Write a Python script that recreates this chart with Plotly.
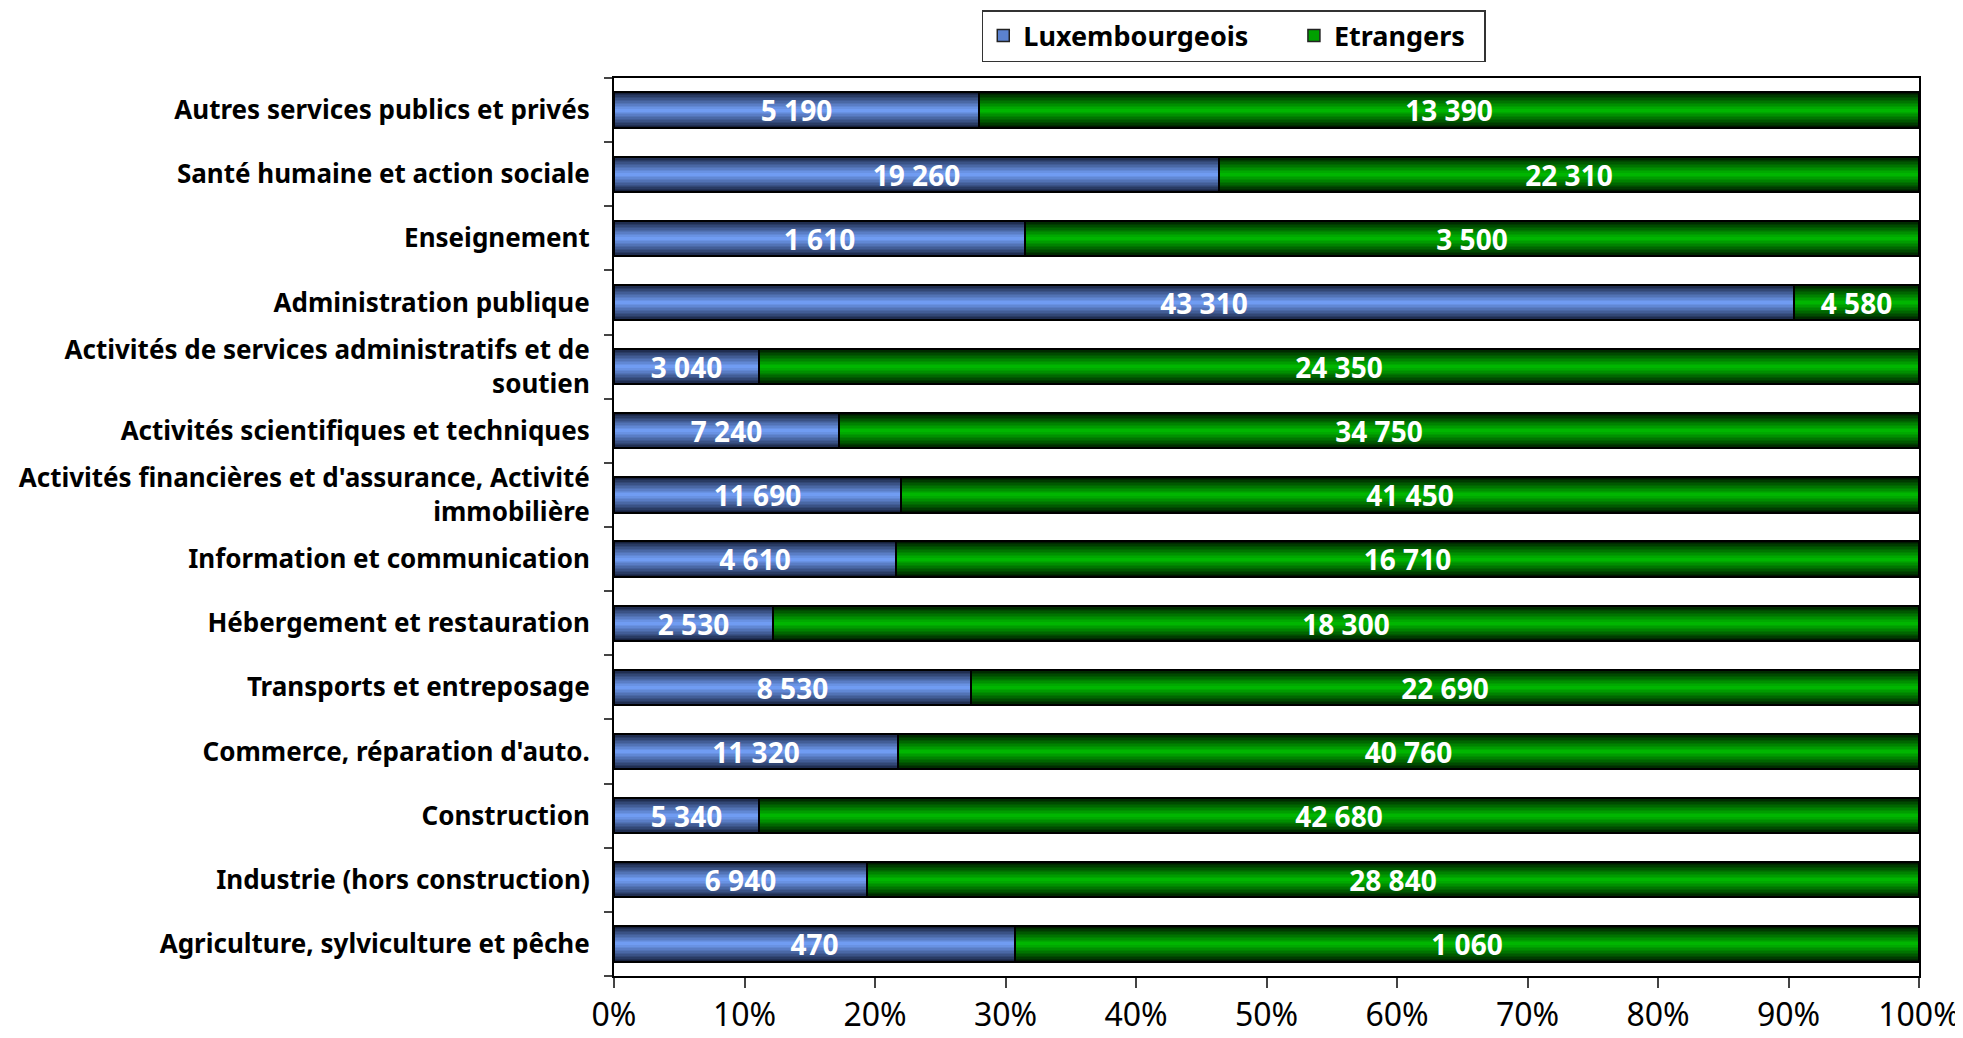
import plotly.graph_objects as go

categories = [
    "Agriculture, sylviculture et pêche",
    "Industrie (hors construction)",
    "Construction",
    "Commerce, réparation d'auto.",
    "Transports et entreposage",
    "Hébergement et restauration",
    "Information et communication",
    "Activités financières et d'assurance, Activité<br>immobilière",
    "Activités scientifiques et techniques",
    "Activités de services administratifs et de<br>soutien",
    "Administration publique",
    "Enseignement",
    "Santé humaine et action sociale",
    "Autres services publics et privés",
]
luxembourgeois = [470, 6940, 5340, 11320, 8530, 2530, 4610, 11690, 7240, 3040, 43310, 1610, 19260, 5190]
etrangers = [1060, 28840, 42680, 40760, 22690, 18300, 16710, 41450, 34750, 24350, 4580, 3500, 22310, 13390]
x_ticks = [0, 10, 20, 30, 40, 50, 60, 70, 80, 90, 100]

totals = [a + b for a, b in zip(luxembourgeois, etrangers)]
lux_pct = [100 * a / t for a, t in zip(luxembourgeois, totals)]
etr_pct = [100 * b / t for b, t in zip(etrangers, totals)]

def fmt(v):
    return f"{v:,}".replace(",", " ")

FONT = "Noto Sans"
BAR_W = 0.55
N = 12

def lerp(c1, c2, t):
    return "rgb(%d,%d,%d)" % tuple(round(a + (b - a) * t) for a, b in zip(c1, c2))

series = [
    ("Luxembourgeois", lux_pct, [0] * len(categories), luxembourgeois, (22, 32, 60), (112, 156, 242), "#5b82cf"),
    ("Etrangers", etr_pct, lux_pct, etrangers, (0, 25, 0), (0, 182, 0), "#00a000"),
]

fig = go.Figure()
for name, vals, base, counts, edge, mid, legc in series:
    for i in range(N):
        t = i / (N - 1)
        w = BAR_W * (1 - i / N)
        fig.add_trace(go.Bar(
            y=categories, x=vals, base=base, orientation="h", width=w,
            marker=dict(color=lerp(edge, mid, t ** 0.9), line=dict(width=0)),
            showlegend=False, hoverinfo="skip",
        ))

for name, vals, base, counts, edge, mid, legc in series:
    fig.add_trace(go.Bar(
        y=categories, x=vals, base=base, orientation="h", width=BAR_W,
        marker=dict(color="rgba(0,0,0,0)", line=dict(color="black", width=2)),
        text=[fmt(c) for c in counts], textposition="inside",
        insidetextanchor="middle", constraintext="none",
        textfont=dict(family=FONT, size=28, color="white", weight="bold"),
        showlegend=False, name=name,
    ))

legend_names = ["Luxembourgeois\u2003\u2002", "Etrangers\u2002"]
for (name, vals, base, counts, edge, mid, legc), lname in zip(series, legend_names):
    fig.add_trace(go.Bar(
        y=[None], x=[None], orientation="h", name=lname,
        marker=dict(color=legc, line=dict(color="#222222", width=1.5)),
    ))

fig.update_layout(
    width=1955, height=1030,
    barmode="overlay",
    plot_bgcolor="white", paper_bgcolor="white",
    margin=dict(l=606, r=44, t=70, b=62, autoexpand=False),
    font=dict(family=FONT, color="black"),
    legend=dict(
        orientation="h", xref="container", yref="container",
        x=0.627, xanchor="center", y=0.998, yanchor="top",
        bordercolor="#333333", borderwidth=1.5,
        font=dict(family=FONT, size=27, weight="bold"),
        traceorder="normal", itemwidth=30,
    ),
    bargap=0,
)
fig.update_xaxes(
    range=[0, 100], tickvals=x_ticks, ticktext=[f"{v}%" for v in x_ticks],
    showgrid=False, zeroline=False, automargin=False,
    showline=True, linecolor="black", linewidth=2, mirror=True,
    ticks="outside", ticklen=10, tickwidth=1.5, tickcolor="#444444",
    tickfont=dict(family=FONT, size=32),
)
fig.update_yaxes(
    categoryorder="array", categoryarray=categories,
    range=[-0.5, len(categories) - 0.5],
    showgrid=False, zeroline=False, automargin=False,
    showline=True, linecolor="black", linewidth=2, mirror=True,
    ticks="outside", tickson="boundaries", ticklen=8, tickwidth=1.5, tickcolor="#444444",
    tickfont=dict(family=FONT, size=26, weight="bold"),
    ticklabelstandoff=17,
)

fig.write_html("out.html")
